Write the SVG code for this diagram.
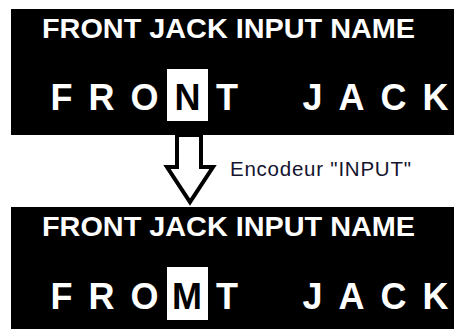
<svg xmlns="http://www.w3.org/2000/svg" width="454" height="329" viewBox="0 0 454 329">
<style>
.panel{fill:#000}
.head{font-family:"Liberation Sans",Arial,sans-serif;font-weight:bold;font-size:28px;fill:#fff}
.big{font-family:"Liberation Sans",Arial,sans-serif;font-weight:bold;font-size:36px;fill:#fff}
.cur{fill:#fff}
.curtxt{fill:#000}
.lbl{font-family:"Liberation Sans",Arial,sans-serif;font-size:20.5px;fill:#14142e}
</style>
<rect width="454" height="329" fill="#fff"/>
<g id="panel-before">
<rect class="panel" x="11" y="9" width="450" height="126"/>
<text class="head" x="42" y="38" textLength="373" lengthAdjust="spacingAndGlyphs">FRONT JACK INPUT NAME</text>
<rect class="cur" x="167" y="69" width="41" height="52"/>
<text class="big" y="110"><tspan x="50.5">F</tspan><tspan x="88.5">R</tspan><tspan x="130.5">O</tspan><tspan x="174.5" class="curtxt">N</tspan><tspan x="216">T</tspan><tspan x="302.5">J</tspan><tspan x="338.5">A</tspan><tspan x="380.5">C</tspan><tspan x="422.5">K</tspan></text>
</g>
<g id="panel-after">
<rect class="panel" x="11" y="207" width="450" height="130"/>
<text class="head" x="42" y="236" textLength="373" lengthAdjust="spacingAndGlyphs">FRONT JACK INPUT NAME</text>
<rect class="cur" x="167" y="267" width="41" height="53"/>
<text class="big" y="309"><tspan x="50.5">F</tspan><tspan x="88.5">R</tspan><tspan x="130.5">O</tspan><tspan x="172" class="curtxt">M</tspan><tspan x="216">T</tspan><tspan x="302.5">J</tspan><tspan x="338.5">A</tspan><tspan x="380.5">C</tspan><tspan x="422.5">K</tspan></text>
</g>
<g id="connectors">
<polygon points="177,135 201,135 201,167 213,167 190,202 167,167 177,167" fill="#fff" stroke="#000" stroke-width="4" stroke-linejoin="miter"/>
<text class="lbl" x="230" y="176" textLength="181" lengthAdjust="spacing">Encodeur "INPUT"</text>
</g>
</svg>
